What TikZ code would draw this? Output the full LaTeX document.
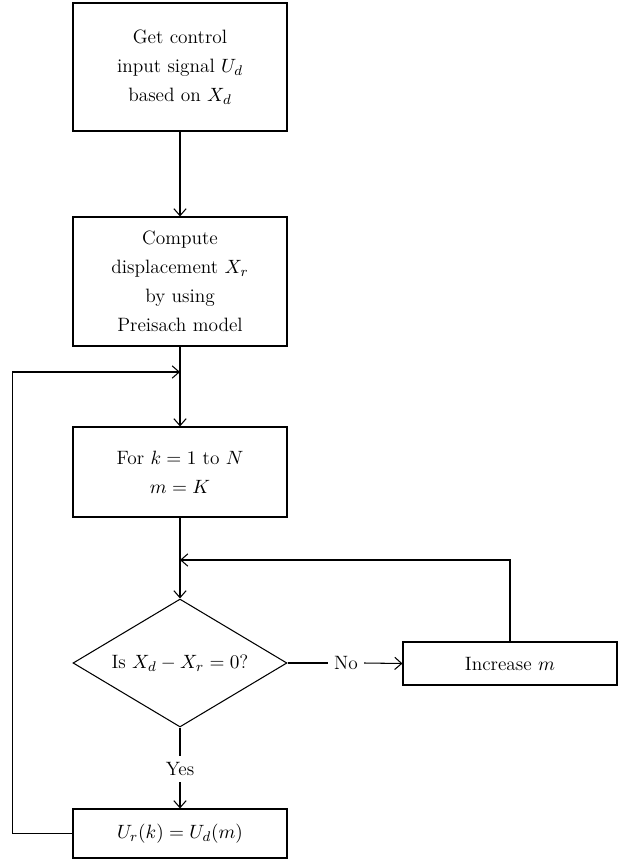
\documentclass[tikz,border=0pt]{standalone}
\usetikzlibrary{shapes.geometric,arrows.meta}
\begin{document}
\begin{tikzpicture}[x=0.02cm,y=-0.02cm,line width=0.6pt,>={Straight Barb[length=4pt,width=7pt]},
  font=\fontsize{11}{16.5}\selectfont,
  box/.style={draw,rectangle,align=center,minimum width=4.28cm,inner sep=2pt},
  dec/.style={draw,diamond,aspect=1.67,align=center,minimum width=4.28cm,minimum height=2.56cm,inner sep=0pt}]
\useasboundingbox (0,0) rectangle (619,860);
% boxes of the main column
\node[box,minimum height=2.56cm] (get) at (180,67) {Get control\\input signal $U_d$\\based on $X_d$};
\node[box,minimum height=2.58cm] (comp) at (180,281.5) {Compute\\displacement $X_r$\\by using\\Preisach model};
\node[box,minimum height=1.8cm] (fork) at (180,472) {For $k = 1$ to $N$\\$m = K$};
\node[dec] (isz) at (180,663) {Is $X_d - X_r = 0$?};
\node[box,minimum height=0.86cm] (inc) at (510,663.5) {Increase $m$};
\node[box,minimum height=0.98cm] (ur) at (180,833.5) {$U_r(k) = U_d(m)$};
\node (no) at (346,663) {No};\node (yes) at (180,769) {Yes};
\coordinate (jn1) at (180,372);\coordinate (jn2) at (180,560);
% connectors
\draw[->] (get) -- (comp);\draw[->] (comp) -- (fork);\draw[->] (fork) -- (isz);
\draw (isz.east) -- (no.west);\draw[->] (no.east) -- (inc.west);
\draw (isz.south) -- (yes.north);\draw[->] (yes.south) -- (ur.north);
\draw[->] (inc.north) |- (jn2);
\draw[->] (ur.west) -- ++(-60,0) |- (jn1);
\end{tikzpicture}
\end{document}
